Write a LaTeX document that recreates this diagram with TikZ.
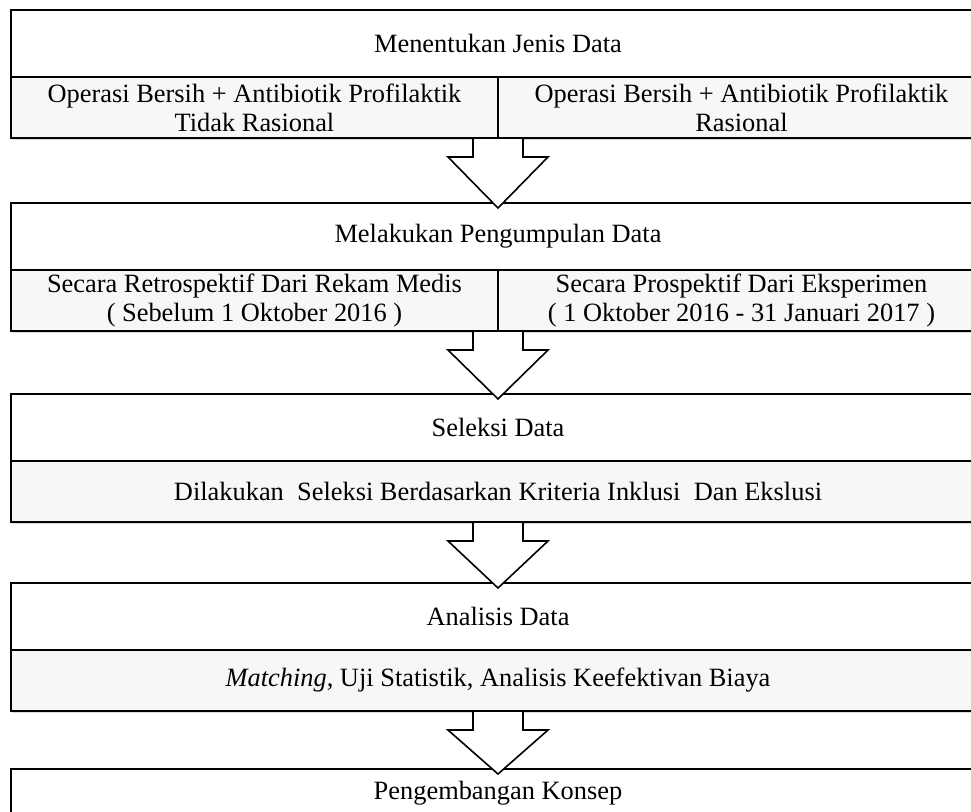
\documentclass[tikz,border=0pt]{standalone}
\usepackage{fontspec}
\setmainfont{Liberation Serif}
\usetikzlibrary{positioning,calc,shadows}

% block arrow between two points
\newcommand{\panahblok}[2]{%
	\filldraw[panah] ($(#1)+(-12.5pt,-0.5pt)$) -- ++(0,-9pt) -- ++(-12.5pt,0)
	-- ($(#2)+(0,-2.5pt)$) -- ($(#1)+(25pt,-9.5pt)$) -- ++(-12.5pt,0)
	-- ($(#1)+(12.5pt,-0.5pt)$);}

\begin{document}
\begin{tikzpicture}[font=\fontsize{13.2}{14.5}\selectfont,
	judul/.style={draw, line width=1pt, fill=white, minimum width=487pt,
		minimum height=33.5pt, inner sep=1pt, outer sep=0pt},
	isi/.style={draw, line width=1pt, fill=black!3, align=center,
		minimum height=30.5pt, inner sep=0.5pt, outer sep=0pt,
		drop shadow={opacity=0.3, shadow xshift=0.6pt, shadow yshift=-1.2pt}},
	separuh/.style={isi, minimum width=243.5pt},
	penuh/.style={isi, minimum width=487pt},
	panah/.style={draw=black, fill=white, line width=0.8pt, line join=miter}]
	\clip (0,0) rectangle (485.5pt,-405.5pt);
	
	\node[judul, anchor=north west] (jenis) at (5.5pt,-5pt) {Menentukan Jenis Data};
	\node[separuh, below right=0pt and 0pt of jenis.south west] (jenisA)
	{Operasi Bersih + Antibiotik Profilaktik\\Tidak Rasional};
	\node[separuh, below left=0pt and 0pt of jenis.south east] (jenisB)
	{Operasi Bersih + Antibiotik Profilaktik\\Rasional};
	
	\node[judul, below=32.5pt of jenisA.south east] (kumpul) {Melakukan Pengumpulan Data};
	\node[separuh, below right=0pt and 0pt of kumpul.south west] (kumpulA)
	{Secara Retrospektif Dari Rekam Medis\\( Sebelum 1 Oktober 2016 )};
	\node[separuh, below left=0pt and 0pt of kumpul.south east] (kumpulB)
	{Secara Prospektif Dari Eksperimen\\( 1 Oktober 2016 - 31 Januari 2017 )};
	
	\node[judul, below=31.5pt of kumpulA.south east] (seleksi) {Seleksi Data};
	\node[penuh, below=0pt of seleksi] (seleksiB)
	{Dilakukan~ Seleksi Berdasarkan Kriteria Inklusi~ Dan Ekslusi};
	
	\node[judul, below=30.5pt of seleksiB] (analisis) {Analisis Data};
	\node[penuh, below=0pt of analisis] (analisisB)
	{\emph{Matching}, Uji Statistik, Analisis Keefektivan Biaya};
	
	\node[judul, minimum height=24pt, below=29pt of analisisB] (konsep) {Pengembangan Konsep};
	
	\panahblok{jenisA.south east}{kumpul.north}
	\panahblok{kumpulA.south east}{seleksi.north}
	\panahblok{seleksiB.south}{analisis.north}
	\panahblok{analisisB.south}{konsep.north}
\end{tikzpicture}
\end{document}
